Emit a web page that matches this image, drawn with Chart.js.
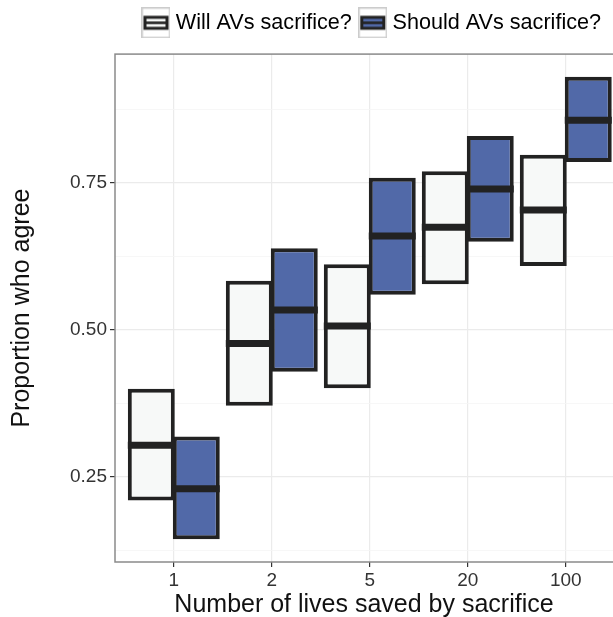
<!DOCTYPE html>
<html>
<head>
<meta charset="utf-8">
<script src="https://cdn.jsdelivr.net/npm/chart.js@4"></script>
<style>
  html, body { margin: 0; padding: 0; background: #fff; }
  #wrap { width: 613px; height: 617px; }
</style>
</head>
<body>
<div id="wrap"><canvas id="myChart"></canvas></div>
<script>
// values
const categories = ['1', '2', '5', '20', '100'];
const willLow  = [0.210, 0.371, 0.401, 0.578, 0.609];
const willMid  = [0.304, 0.477, 0.507, 0.675, 0.704];
const willHigh = [0.400, 0.584, 0.612, 0.770, 0.798];
const shouldLow  = [0.144, 0.429, 0.560, 0.650, 0.786];
const shouldMid  = [0.230, 0.534, 0.660, 0.740, 0.857];
const shouldHigh = [0.319, 0.639, 0.759, 0.830, 0.931];
const yMajor = [0.25, 0.50, 0.75];
const yMinor = [0.125, 0.375, 0.625, 0.875];

const dark = '#222222';
const willFill = '#f7f9f8';
const shouldFill = '#5169a8';
const font = 'Liberation Sans, Arial, sans-serif';

// legend key glyph (crossbar in a grey key box)
function makeKey(fill) {
  const c = document.createElement('canvas');
  c.width = 29; c.height = 31;
  const g = c.getContext('2d');
  g.fillStyle = '#fff';
  g.fillRect(0, 0, 29, 31);
  g.strokeStyle = '#cccccc';
  g.lineWidth = 1.5;
  g.strokeRect(0.75, 0.75, 27.5, 29.5);
  g.fillStyle = dark;
  g.fillRect(2, 8.5, 25, 14);
  g.fillStyle = fill;
  g.fillRect(5, 11.5, 19, 8);
  g.fillStyle = dark;
  g.fillRect(5, 14.2, 19, 2.6);
  return c;
}
const keys = [makeKey(willFill), makeKey(shouldFill)];

const medians = [willMid, shouldMid];

const medianLines = {
  id: 'medianLines',
  afterDatasetsDraw(chart) {
    const ctx = chart.ctx;
    const y = chart.scales.y;
    ctx.save();
    ctx.strokeStyle = dark;
    ctx.lineWidth = 7;
    medians.forEach((mids, di) => {
      chart.getDatasetMeta(di).data.forEach((bar, i) => {
        const py = y.getPixelForValue(mids[i]);
        ctx.beginPath();
        ctx.moveTo(bar.x - bar.width / 2, py);
        ctx.lineTo(bar.x + bar.width / 2, py);
        ctx.stroke();
      });
    });
    ctx.restore();
  }
};

const panelBorder = {
  id: 'panelBorder',
  beforeDatasetsDraw(chart) {
    const {ctx, chartArea: a} = chart;
    ctx.save();
    ctx.strokeStyle = '#8a8a8a';
    ctx.lineWidth = 1.5;
    ctx.strokeRect(a.left, a.top, a.right - a.left + 20, a.bottom - a.top);
    ctx.restore();
  }
};

const ctx = document.getElementById('myChart').getContext('2d');
const chart = new Chart(ctx, {
  type: 'bar',
  data: {
    datasets: [{
      label: 'Will AVs sacrifice?',
      xAxisID: 'x',
      yAxisID: 'y',
      data: categories.map((c, i) => ({x: i, y: [willLow[i], willHigh[i]]})),
      backgroundColor: willFill,
      borderColor: dark,
      borderWidth: 4,
      borderSkipped: false
    }, {
      label: 'Should AVs sacrifice?',
      xAxisID: 'x',
      yAxisID: 'y',
      data: categories.map((c, i) => ({x: i, y: [shouldLow[i], shouldHigh[i]]})),
      backgroundColor: shouldFill,
      borderColor: dark,
      borderWidth: 4,
      borderSkipped: false
    }]
  },
  options: {
    responsive: true,
    maintainAspectRatio: false,
    animation: false,
    categoryPercentage: 0.918,
    barPercentage: 1.044,
    layout: { padding: { top: 0, left: 0, right: 0, bottom: 0 } },
    plugins: {
      tooltip: { enabled: false },
      legend: {
        position: 'top',
        align: 'end',
        labels: {
          usePointStyle: true,
          pointStyleWidth: 18,
          padding: 12,
          color: '#111',
          font: { family: font, size: 21.6 },
          generateLabels(chart) {
            return chart.data.datasets.map((ds, i) => ({
              text: ds.label,
              pointStyle: keys[i],
              datasetIndex: i,
              hidden: false,
              lineWidth: 0
            }));
          }
        }
      }
    },
    scales: {
      x: {
        type: 'linear',
        min: -0.6,
        max: 4.482,
        offset: false,
        afterBuildTicks(s) { s.ticks = categories.map((c, i) => ({value: i})); },
        afterFit(s) { s.height = 55; },
        ticks: {
          includeBounds: false,
          padding: 2,
          color: '#333',
          font: { family: font, size: 19 },
          callback(v) { return categories[v]; }
        },
        grid: { offset: false, color: '#ebebeb', lineWidth: 1.2, tickColor: '#333', tickLength: 5 },
        border: { display: false },
        title: {
          display: true,
          text: 'Number of lives saved by sacrifice',
          color: '#111',
          font: { family: font, size: 25, lineHeight: 0.8 },
          padding: { top: 0, bottom: 1.5 }
        }
      },
      // empty strip between legend and panel
      gap: {
        type: 'linear',
        position: 'top',
        afterFit(s) { s.height = 10.5; },
        ticks: { display: false },
        grid: { display: false, drawTicks: false },
        border: { display: false }
      },
      y: {
        min: 0.1054,
        max: 0.9694,
        stacked: false,
        afterBuildTicks(s) {
          s.ticks = yMinor.concat(yMajor).sort((a, b) => a - b).map(v => ({value: v}));
        },
        afterFit(s) { s.width = 115; },
        ticks: {
          padding: 3,
          color: '#333',
          font: { family: font, size: 19 },
          callback(v) { return yMajor.includes(v) ? v.toFixed(2) : ''; }
        },
        grid: {
          color: c => yMajor.includes(c.tick.value) ? '#ebebeb' : '#f5f5f5',
          lineWidth: c => yMajor.includes(c.tick.value) ? 1.2 : 0.8,
          tickColor: c => yMajor.includes(c.tick.value) ? '#333' : 'rgba(0,0,0,0)',
          tickLength: 5
        },
        border: { display: false },
        title: {
          display: true,
          text: 'Proportion who agree',
          color: '#111',
          font: { family: font, size: 25, lineHeight: 1 },
          padding: { top: 10, bottom: 0 }
        }
      }
    }
  },
  plugins: [panelBorder, medianLines]
});
</script>
</body>
</html>
